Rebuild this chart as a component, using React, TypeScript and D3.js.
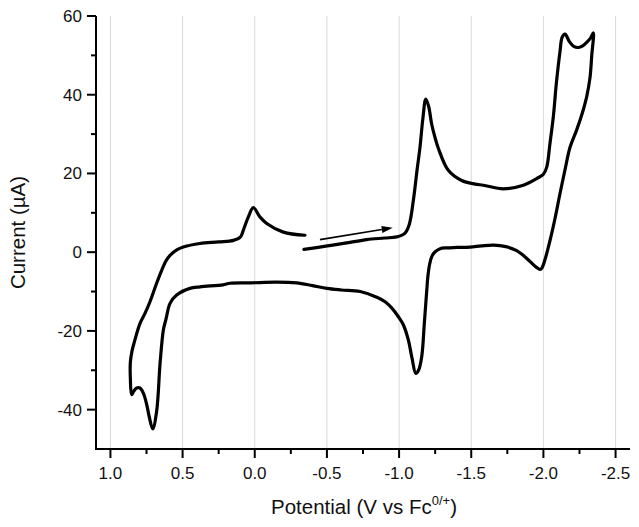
import React from "react";
import * as d3 from "d3";

// Cyclic voltammogram: [potential (V vs Fc0/+), current (µA)]
const SCAN_FORWARD_NEG: [number, number][] = [
  [-0.341, 0.7], [-0.45, 1.3], [-0.54, 1.8], [-0.66, 2.5], [-0.776, 3.2], [-0.9, 3.6],
  [-0.984, 3.9], [-1.04, 4.8], [-1.07, 7], [-1.099, 13.2], [-1.125, 21], [-1.145, 26.7],
  [-1.165, 34], [-1.185, 38.9], [-1.205, 37], [-1.226, 32.5], [-1.25, 29], [-1.272, 26.4],
  [-1.341, 20.8], [-1.434, 18.2], [-1.526, 17.3], [-1.584, 17], [-1.723, 16.1], [-1.861, 17],
  [-1.954, 18.7], [-2.0, 19.8], [-2.023, 21.6], [-2.045, 27.5], [-2.069, 34.5], [-2.09, 43],
  [-2.115, 51], [-2.13, 54.6], [-2.15, 55.4], [-2.18, 53.5], [-2.21, 52.3], [-2.242, 52],
  [-2.275, 52.5], [-2.3, 53.3], [-2.325, 54.3], [-2.346, 55.7],
];

const SCAN_REVERSE: [number, number][] = [
  [-2.335, 50], [-2.323, 44.4], [-2.3, 39.5], [-2.275, 36], [-2.23, 31], [-2.185, 26.7],
  [-2.15, 21], [-2.115, 14.9], [-2.08, 8.5], [-2.046, 3.0], [-2.01, -2], [-1.99, -4],
  [-1.977, -4.4], [-1.95, -3.8], [-1.908, -2.4], [-1.86, -0.8], [-1.815, 0.4], [-1.74, 1.4],
  [-1.655, 1.8], [-1.57, 1.6], [-1.492, 1.3], [-1.4, 1.2], [-1.33, 1.1], [-1.284, 0.9],
  [-1.25, 0.1], [-1.228, -1], [-1.212, -3], [-1.2, -6], [-1.192, -9.6], [-1.175, -18],
  [-1.157, -26.5], [-1.135, -30], [-1.116, -30.8], [-1.09, -27], [-1.064, -22.3],
  [-1.03, -18.5], [-0.995, -16.4], [-0.95, -14.2], [-0.903, -12.6], [-0.85, -11.5],
  [-0.73, -10], [-0.6, -9.6], [-0.5, -9.2], [-0.4, -8.5], [-0.29, -7.8], [-0.15, -7.6],
  [0.033, -7.8], [0.171, -7.9], [0.22, -8.3], [0.379, -8.8], [0.449, -9.2], [0.541, -10.9],
  [0.587, -13], [0.615, -17], [0.633, -19.7], [0.656, -28.2], [0.68, -40.5], [0.707, -44.9],
  [0.73, -42], [0.75, -38.5], [0.772, -35.8], [0.795, -34.5], [0.818, -34.5], [0.838, -35.3],
  [0.853, -36.2],
];

const SCAN_FORWARD_POS: [number, number][] = [
  [0.862, -32], [0.862, -28], [0.85, -25], [0.835, -22.9], [0.795, -18.1], [0.76, -15.5],
  [0.726, -12.6], [0.68, -7.9], [0.645, -4.6], [0.615, -2.2], [0.587, -0.8], [0.54, 0.6],
  [0.495, 1.3], [0.38, 2.2], [0.25, 2.6], [0.148, 3], [0.1, 3.8], [0.079, 5.6],
  [0.045, 8.9], [0.01, 11.3], [-0.037, 8.9], [-0.083, 7.3], [-0.198, 5.1], [-0.348, 4.3],
];

const ARROW: [number, number][] = [[-0.452, 3.2], [-0.956, 6.2]];

const X_TICKS = [1.0, 0.5, 0.0, -0.5, -1.0, -1.5, -2.0, -2.5];
const X_MINOR = [0.75, 0.25, -0.25, -0.75, -1.25, -1.75, -2.25];
const Y_TICKS = [-40, -20, 0, 20, 40, 60];
const Y_MINOR = [-30, -10, 10, 30, 50];

const X_LABEL = "Potential (V vs Fc";
const X_LABEL_SUP = "0/+";
const Y_LABEL = "Current (µA)";

const W = 639;
const H = 527;
const FONT = "'Liberation Sans', Arial, Helvetica, sans-serif";

export default function App() {
  const x = d3.scaleLinear().domain([1.1, -2.6]).range([96, 630]);
  const y = d3.scaleLinear().domain([-50, 60]).range([449, 16]);
  const [x0, x1] = x.range();
  const [y0, y1] = y.range();

  const curve = [...SCAN_FORWARD_NEG, ...SCAN_REVERSE, ...SCAN_FORWARD_POS];
  const line = d3
    .line<[number, number]>()
    .x((d) => x(d[0]))
    .y((d) => y(d[1]))
    .curve(d3.curveCatmullRom.alpha(0.5));

  const ax = x(ARROW[0][0]);
  const ay = y(ARROW[0][1]);
  const bx = x(ARROW[1][0]);
  const by = y(ARROW[1][1]);
  const ang = Math.atan2(by - ay, bx - ax);
  const hl = 11;
  const hw = 3.5;
  const baseX = bx - hl * Math.cos(ang);
  const baseY = by - hl * Math.sin(ang);
  const head = [
    [bx, by],
    [baseX + hw * Math.sin(ang), baseY - hw * Math.cos(ang)],
    [baseX - hw * Math.sin(ang), baseY + hw * Math.cos(ang)],
  ]
    .map((p) => p.join(","))
    .join(" ");

  return (
    <svg
      width={W}
      height={H}
      style={{ position: "absolute", left: 0, top: 0, background: "#fff" }}
      fontFamily={FONT}
    >
      <rect x={0} y={0} width={W} height={H} fill="#fff" />
      {/* grid */}
      {X_TICKS.map((t) => (
        <line key={"g" + t} x1={x(t)} x2={x(t)} y1={y1} y2={y0} stroke="#d9d9d9" strokeWidth={1} />
      ))}
      {/* curve */}
      <path d={line(curve) || ""} fill="none" stroke="#000" strokeWidth={3.2} strokeLinejoin="round" strokeLinecap="round" />
      {/* arrow */}
      <line x1={ax} y1={ay} x2={baseX} y2={baseY} stroke="#000" strokeWidth={1.6} />
      <polygon points={head} fill="#000" />
      {/* axes */}
      <line x1={x0} x2={x1} y1={y0} y2={y0} stroke="#000" strokeWidth={2} />
      <line x1={x0} x2={x0} y1={y0 + 1} y2={y1} stroke="#000" strokeWidth={2} />
      {X_TICKS.map((t) => (
        <g key={"xt" + t}>
          <line x1={x(t)} x2={x(t)} y1={y0} y2={y0 + 9} stroke="#000" strokeWidth={2} />
          <text x={x(t)} y={y0 + 30} textAnchor="middle" fontSize={17} fill="#111">
            {t.toFixed(1)}
          </text>
        </g>
      ))}
      {X_MINOR.map((t) => (
        <line key={"xm" + t} x1={x(t)} x2={x(t)} y1={y0} y2={y0 + 5} stroke="#000" strokeWidth={2} />
      ))}
      {Y_TICKS.map((t) => (
        <g key={"yt" + t}>
          <line x1={x0 - 9} x2={x0} y1={y(t)} y2={y(t)} stroke="#000" strokeWidth={2} />
          <text x={x0 - 14} y={y(t) + 6} textAnchor="end" fontSize={17} fill="#111">
            {t}
          </text>
        </g>
      ))}
      {Y_MINOR.map((t) => (
        <line key={"ym" + t} x1={x0 - 5} x2={x0} y1={y(t)} y2={y(t)} stroke="#000" strokeWidth={2} />
      ))}
      {/* axis titles */}
      <text x={364} y={514} textAnchor="middle" fontSize={20.5} fill="#111">
        {X_LABEL}
        <tspan fontSize={13} dy={-9}>{X_LABEL_SUP}</tspan>
        <tspan dy={9}>)</tspan>
      </text>
      <text
        transform={`translate(25, ${(y0 + y1) / 2}) rotate(-90)`}
        textAnchor="middle"
        fontSize={20.5}
        fill="#111"
      >
        {Y_LABEL}
      </text>
    </svg>
  );
}
